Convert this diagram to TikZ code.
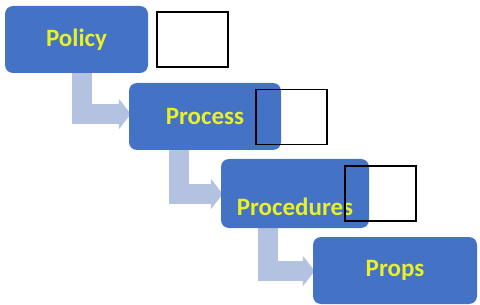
\documentclass[tikz,border=0pt]{standalone}
\usepackage{fontspec}
\setmainfont{Carlito}
\usetikzlibrary{arrows.meta,backgrounds}
\definecolor{boxblue}{HTML}{4472C4}
\definecolor{arrowblue}{HTML}{B4C2E1}
\definecolor{txtyellow}{RGB}{232,240,40}
\tikzset{
  stagebox/.style={fill=boxblue, draw=none, rounded corners=8pt, inner sep=0pt,
    font=\fontsize{25}{30}\selectfont\bfseries, text=txtyellow},
  stagetext/.style={font=\fontsize{25}{30}\selectfont\bfseries, text=txtyellow, inner sep=0pt},
  emptybox/.style={draw=black, line width=1.2pt, fill=none, minimum width=71pt, minimum height=55pt, inner sep=0pt},
  flowarrow/.style={draw=arrowblue, line width=20pt, line join=miter,
    -{Triangle[width=30pt,length=12pt]}},
}
\begin{document}
\begin{tikzpicture}[x=1pt,y=-1pt]
\useasboundingbox (0,0) rectangle (480,305);
% boxes
\node[stagebox, minimum width=143pt, minimum height=67pt] (policy) at (76.5,39.5) {Policy};
\node[stagebox, minimum width=152pt, minimum height=67pt] (process) at (205,116.5) {Process};
\node[stagebox, minimum width=148pt, minimum height=69pt] (procedures) at (295,193.5) {};
\node[stagebox, minimum width=164pt, minimum height=67pt] (props) at (395,270.5) {Props};
\node[stagetext] (proctext) at (295,207) {Procedures};
% arrows behind boxes
\begin{scope}[on background layer]
\draw[flowarrow] ([xshift=5.5pt]policy.south) |- ([yshift=2.5pt,xshift=2pt]process.west);
\draw[flowarrow] ([xshift=-26pt]process.south) |- ([yshift=-0.5pt,xshift=2pt]procedures.west);
\draw[flowarrow] ([xshift=-27pt]procedures.south) |- ([yshift=-0.5pt,xshift=2pt]props.west);
\end{scope}
% empty boxes
\node[emptybox] (box1) at (192.5,39.5) {};
\node[emptybox] (box2) at (291.5,117) {};
\node[emptybox] (box3) at (380.5,193.5) {};
\end{tikzpicture}
\end{document}
